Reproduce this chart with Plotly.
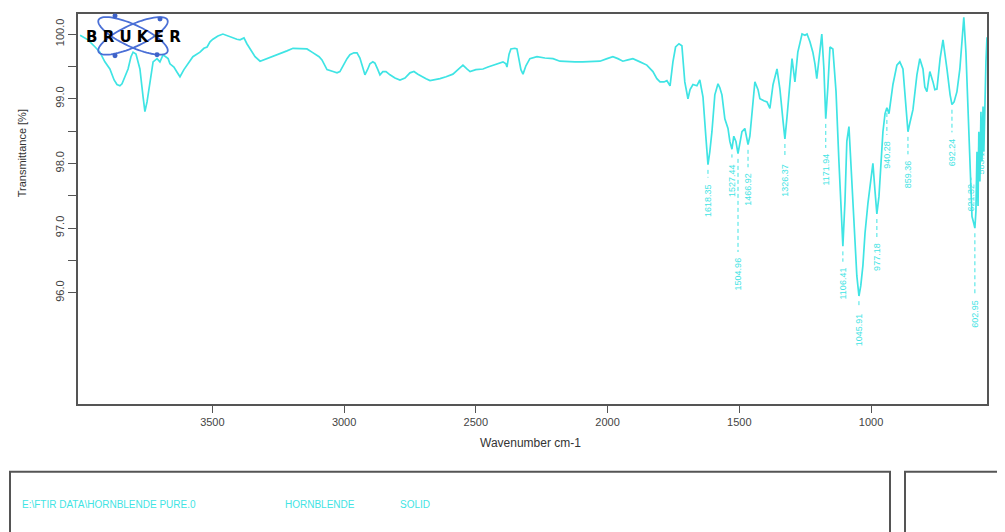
import numpy as np
import plotly.graph_objects as go

# ---------------- data ----------------
wavenumber = [4002, 3972, 3945, 3927, 3908, 3889, 3873, 3862, 3851, 3843, 3832, 3820, 3809, 3801, 3790,
              3775, 3763, 3756, 3748, 3737, 3725, 3710, 3699, 3687, 3668, 3661, 3646, 3634, 3623, 3608,
              3596, 3574, 3547, 3532, 3520, 3509, 3498, 3479, 3460, 3441, 3422, 3407, 3395, 3380, 3369,
              3353, 3338, 3319, 3293, 3270, 3243, 3217, 3194, 3168, 3141, 3122, 3111, 3095, 3084, 3065,
              3042, 3027, 3016, 3004, 2989, 2978, 2963, 2951, 2940, 2932, 2921, 2910, 2902, 2891, 2883,
              2872, 2864, 2853, 2841, 2826, 2807, 2788, 2769, 2750, 2735, 2720, 2704, 2689, 2674, 2655,
              2636, 2613, 2587, 2568, 2549, 2534, 2522, 2500, 2473, 2454, 2435, 2416, 2397, 2386, 2382,
              2374, 2367, 2352, 2344, 2336, 2329, 2321, 2310, 2295, 2268, 2238, 2207, 2181, 2154, 2124,
              2094, 2059, 2029, 2002, 1980, 1961, 1942, 1923, 1904, 1877, 1851, 1835, 1828, 1813, 1801,
              1786, 1775, 1763, 1752, 1742, 1729, 1718, 1707, 1695, 1687, 1676, 1661, 1650, 1638, 1627,
              1619, 1612, 1604, 1593, 1581, 1574, 1566, 1555, 1543, 1536, 1528, 1521, 1513, 1505, 1498,
              1490, 1479, 1467, 1460, 1452, 1441, 1429, 1422, 1407, 1395, 1384, 1372, 1357, 1346, 1334,
              1327, 1319, 1312, 1300, 1289, 1278, 1262, 1251, 1243, 1232, 1221, 1213, 1206, 1198, 1187,
              1179, 1172, 1164, 1156, 1145, 1133, 1122, 1114, 1107, 1099, 1092, 1084, 1077, 1065, 1054,
              1046, 1039, 1031, 1023, 1012, 1001, 993, 985, 978, 970, 963, 955, 947, 940, 932,
              925, 917, 902, 891, 879, 872, 860, 853, 841, 826, 815, 803, 796, 788, 777,
              765, 758, 750, 738, 727, 720, 712, 700, 693, 685, 674, 663, 655, 648, 640,
              632, 625, 617, 610, 606, 602, 598, 594, 591, 587, 583, 579, 575, 572, 568,
              564, 560]
transmittance = [99.98, 99.91, 99.80, 99.72, 99.57, 99.46, 99.29, 99.22, 99.20, 99.23, 99.34, 99.46, 99.65, 99.72, 99.69,
                 99.46, 99.03, 98.80, 98.95, 99.22, 99.57, 99.62, 99.57, 99.68, 99.62, 99.54, 99.49, 99.41, 99.34, 99.45,
                 99.52, 99.65, 99.72, 99.78, 99.80, 99.88, 99.92, 99.97, 100.0, 99.97, 99.95, 99.92, 99.91, 99.94, 99.85,
                 99.75, 99.65, 99.58, 99.62, 99.65, 99.69, 99.74, 99.78, 99.78, 99.77, 99.72, 99.69, 99.65, 99.60, 99.45,
                 99.42, 99.40, 99.42, 99.52, 99.62, 99.68, 99.71, 99.71, 99.63, 99.52, 99.37, 99.46, 99.54, 99.57, 99.55,
                 99.45, 99.37, 99.42, 99.42, 99.37, 99.32, 99.29, 99.32, 99.40, 99.42, 99.38, 99.35, 99.31, 99.28, 99.29,
                 99.31, 99.34, 99.38, 99.45, 99.52, 99.46, 99.42, 99.45, 99.46, 99.49, 99.52, 99.55, 99.57, 99.54, 99.49,
                 99.69, 99.77, 99.78, 99.77, 99.60, 99.45, 99.38, 99.51, 99.62, 99.65, 99.63, 99.62, 99.58, 99.57, 99.57,
                 99.57, 99.58, 99.58, 99.62, 99.65, 99.62, 99.58, 99.60, 99.62, 99.57, 99.52, 99.45, 99.42, 99.31, 99.26,
                 99.26, 99.28, 99.20, 99.57, 99.80, 99.85, 99.82, 99.26, 99.00, 99.14, 99.22, 99.20, 99.29, 99.03, 98.41,
                 97.98, 98.18, 98.49, 99.06, 99.23, 99.17, 99.06, 98.69, 98.54, 98.34, 98.22, 98.42, 98.34, 98.15, 98.34,
                 98.49, 98.54, 98.29, 98.42, 98.80, 99.26, 99.14, 99.00, 98.97, 98.95, 98.85, 99.22, 99.46, 99.15, 98.65,
                 98.38, 98.72, 99.03, 99.62, 99.26, 99.72, 100.0, 99.98, 100.0, 99.88, 99.72, 99.54, 99.31, 99.65, 100.0,
                 99.46, 98.69, 99.18, 99.80, 99.77, 99.11, 98.03, 97.26, 96.72, 97.42, 98.34, 98.57, 98.03, 97.11, 96.26,
                 95.95, 96.11, 96.42, 96.92, 97.38, 97.75, 98.00, 97.57, 97.22, 97.49, 98.03, 98.49, 98.77, 98.86, 98.77,
                 98.95, 99.22, 99.52, 99.57, 99.46, 99.11, 98.49, 98.62, 98.83, 99.37, 99.62, 99.46, 99.18, 99.11, 99.42,
                 99.26, 99.14, 99.15, 99.62, 99.91, 99.72, 99.46, 99.06, 98.91, 98.95, 99.11, 99.46, 99.88, 100.26, 99.72,
                 98.80, 98.03, 97.18, 97.07, 97.00, 97.26, 98.18, 97.34, 98.49, 97.72, 98.80, 98.03, 98.88, 98.18, 99.03,
                 99.57, 99.95]

# peak labels: wavenumber and label text
peak_wn = [1619, 1528, 1505, 1467, 1327, 1172, 1107, 1046, 978, 940, 860, 693, 621, 606, 583]
peak_text = ["1618.35", "1527.44", "1504.96", "1466.92", "1326.37", "1171.94", "1106.41", "1045.91",
             "977.18", "940.28", "859.36", "692.24", "621.32", "602.95", "583.17"]
# label top positions (transmittance units)
label_top = [97.72, 98.03, 96.57, 97.88, 98.03, 98.18, 96.42, 95.72, 96.80, 98.38, 98.08, 98.42,
             97.72, 95.92, 98.29]

x_ticks = [3500, 3000, 2500, 2000, 1500, 1000]
y_ticks = [96.0, 96.5, 97.0, 97.5, 98.0, 98.5, 99.0, 99.5, 100.0]
y_ticktext = ["96.0", "", "97.0", "", "98.0", "", "99.0", "", "100.0"]

file_text = ["E:\\FTIR DATA\\HORNBLENDE PURE.0", "HORNBLENDE", "SOLID"]

# ---------------- figure ----------------
CYAN = "#3fe4e4"
W, H = 1005, 532
OFF = 8  # page body margin
L, R, T, B = 78 - OFF, 18 + OFF, 12 - OFF, 128 + OFF
pw, ph = W - L - R, H - T - B

def px(xp):
    return (xp - OFF - L) / pw

def py(yp):
    return (H - B - (yp - OFF)) / ph

fig = go.Figure()
fig.add_trace(go.Scatter(x=wavenumber, y=transmittance, mode="lines",
                         line=dict(color=CYAN, width=1.7), hoverinfo="x+y",
                         showlegend=False))

wn_sorted = np.array(wavenumber[::-1], dtype=float)
tr_sorted = np.array(transmittance[::-1], dtype=float)
for wn, txt, top in zip(peak_wn, peak_text, label_top):
    tmin = float(np.interp(wn, wn_sorted, tr_sorted))
    fig.add_trace(go.Scatter(x=[wn, wn], y=[tmin - 0.08, top + 0.06], mode="lines",
                             line=dict(color=CYAN, width=1, dash="4px,3px"),
                             hoverinfo="skip", showlegend=False))
    fig.add_annotation(x=wn, y=top, text=txt, textangle=-90, showarrow=False,
                       xanchor="center", yanchor="top",
                       font=dict(family="Liberation Sans", size=9, color=CYAN))

# Bruker logo
shapes = []
cx, cy = 133, 34
t = np.linspace(0, 2 * np.pi, 80)
for ang, a, b in [(25, 38, 11), (-25, 38, 11)]:
    th = np.deg2rad(ang)
    xs = cx + a * np.cos(t) * np.cos(th) - b * np.sin(t) * np.sin(th)
    ys = cy + a * np.cos(t) * np.sin(th) + b * np.sin(t) * np.cos(th)
    path = "M " + " L ".join(f"{px(u):.5f},{py(v):.5f}" for u, v in zip(xs, ys)) + " Z"
    shapes.append(dict(type="path", xref="paper", yref="paper", path=path,
                       line=dict(color="#4a6fd6", width=1.8)))
for dx, dy in [(115, 14), (115, 54), (157, 53), (160, 17)]:
    shapes.append(dict(type="circle", xref="paper", yref="paper",
                       x0=px(dx - 2.5), x1=px(dx + 2.5), y0=py(dy + 2.5), y1=py(dy - 2.5),
                       fillcolor="#3f63c8", line=dict(width=0)))

# bottom info boxes
shapes.append(dict(type="rect", xref="paper", yref="paper",
                   x0=px(10), x1=px(890), y0=py(545), y1=py(472),
                   line=dict(color="#555555", width=2)))
shapes.append(dict(type="rect", xref="paper", yref="paper",
                   x0=px(905), x1=px(1015), y0=py(545), y1=py(472),
                   line=dict(color="#555555", width=2)))
fig.update_layout(shapes=shapes)

fig.add_annotation(xref="paper", yref="paper", x=px(133), y=py(35), text="<b>B R U K E R</b>",
                   showarrow=False, xanchor="center", yanchor="middle",
                   font=dict(family="DejaVu Sans", size=15, color="black"))

for txt, xpos in zip(file_text, [20, 283, 398]):
    fig.add_annotation(xref="paper", yref="paper", x=px(xpos), y=py(505), text=txt,
                       showarrow=False, xanchor="left", yanchor="middle",
                       font=dict(family="Liberation Sans", size=10, color=CYAN))

# axis titles
fig.add_annotation(xref="paper", yref="paper", x=px(22), y=py(152), text="Transmittance [%]",
                   textangle=-90, showarrow=False, xanchor="center", yanchor="middle",
                   font=dict(family="Liberation Sans", size=11, color="#333333"))
fig.add_annotation(xref="paper", yref="paper", x=px(530), y=py(443), text="Wavenumber cm-1",
                   showarrow=False, xanchor="center", yanchor="middle",
                   font=dict(family="Liberation Sans", size=12, color="#333333"))

fig.update_xaxes(range=[4010, 560], tickvals=x_ticks, ticks="outside", ticklen=7,
                 tickcolor="#555555", showline=True, linecolor="#555555", linewidth=1.5,
                 mirror=True, showgrid=False, zeroline=False,
                 tickfont=dict(family="Liberation Sans", size=11, color="#444444"))
fig.update_yaxes(range=[94.28, 100.31], tickvals=y_ticks, ticktext=y_ticktext,
                 tickangle=-90, ticks="outside", ticklen=8, tickcolor="#555555",
                 showline=True, linecolor="#555555", linewidth=1.5, mirror=True,
                 showgrid=False, zeroline=False,
                 tickfont=dict(family="Liberation Sans", size=11, color="#444444"))

fig.update_layout(width=W, height=H, margin=dict(l=L, r=R, t=T, b=B),
                  paper_bgcolor="white", plot_bgcolor="white")

fig.write_html("out.html")
